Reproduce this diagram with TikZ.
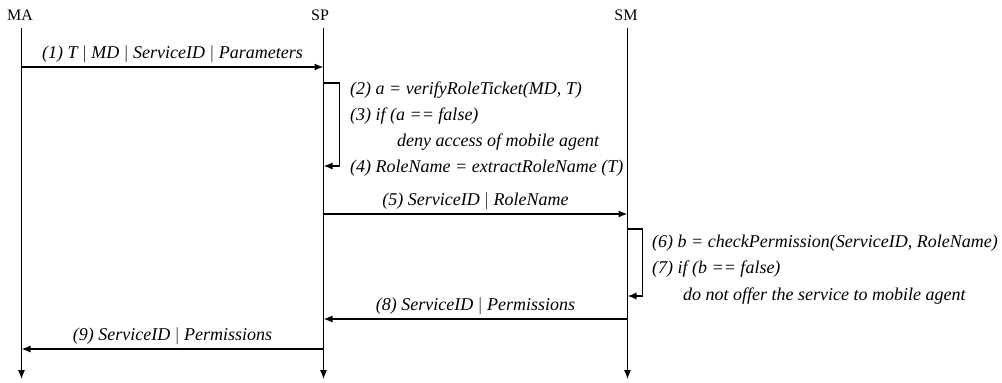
\documentclass[tikz,border=0pt]{standalone}
\usepackage{fontspec}
\setmainfont{Liberation Serif}
\usetikzlibrary{arrows.meta}
\tikzset{>={Latex[length=9pt,width=7pt]}}

\begin{document}
\begin{tikzpicture}[x=1pt,y=-1pt,
    actor/.style = {font=\fontsize{16}{18}\selectfont, inner sep=0pt, outer sep=0pt, anchor=base},
    txt/.style = {font=\fontsize{18}{20}\selectfont\itshape, inner sep=0pt, anchor=base west},
    lbl/.style = {font=\fontsize{18}{20}\selectfont\itshape, inner sep=0pt, above=4pt},
    life/.style = {line width=1.1pt, ->},
    call/.style = {line width=1.3pt, ->}]
\useasboundingbox (0,0) rectangle (1002,383);
    \node[actor] (MA) at (20,20) {MA};
    \node[actor] (SP) at (320,20) {SP};
    \node[actor] (SM) at (626,20) {SM};
    \coordinate (top) at (0,28);
    \coordinate (end) at (0,379);
    \draw[life] (MA |- top) ++(1.5,0) -- ([xshift=1.5pt]MA |- end);
    \draw[life] ([xshift=3.5pt]SP |- top) -- ([xshift=3.5pt]SP |- end);
    \draw[life] ([xshift=1.5pt]SM |- top) -- ([xshift=1.5pt]SM |- end);
    % heights of the calls
    \coordinate (m1) at (21.5,67);
    \coordinate (s2) at (323.5,83);
    \coordinate (s4) at (323.5,166);
    \coordinate (m5) at (323.5,214);
    \coordinate (s6) at (627.5,229);
    \coordinate (s7) at (627.5,296);
    \coordinate (m8) at (627.5,319);
    \coordinate (m9) at (323.5,349);
    \draw[call] (m1) -- node[lbl] {(1) T $|$ MD $|$ ServiceID $|$ Parameters} (s2 |- m1);
    \draw[call] (s2) -- ++(16,0) |- (s4);
    \node[txt] (t2) at (350,94) {(2) a = verifyRoleTicket(MD, T)};
    \node[txt] (t3) at (350,120) {(3) if (a == false)};
    \node[txt] (t3b) at (397,146) {deny access of mobile agent};
    \node[txt] (t4) at (350,172) {(4) RoleName = extractRoleName (T)};
    \draw[call] (m5) -- node[lbl] {(5) ServiceID $|$ RoleName} (s6 |- m5);
    \draw[call] (s6) -- ++(15,0) |- (s7);
    \node[txt] (t6) at (652,247) {(6) b = checkPermission(ServiceID, RoleName)};
    \node[txt] (t7) at (652,273) {(7) if (b == false)};
    \node[txt] (t7b) at (683,300) {do not offer the service to mobile agent};
    \draw[call] (m8) -- node[lbl] {(8) ServiceID $|$ Permissions} (m9 |- m8);
    \draw[call] (m9) -- node[lbl] {(9) ServiceID $|$ Permissions} (m1 |- m9);
\end{tikzpicture}
\end{document}
